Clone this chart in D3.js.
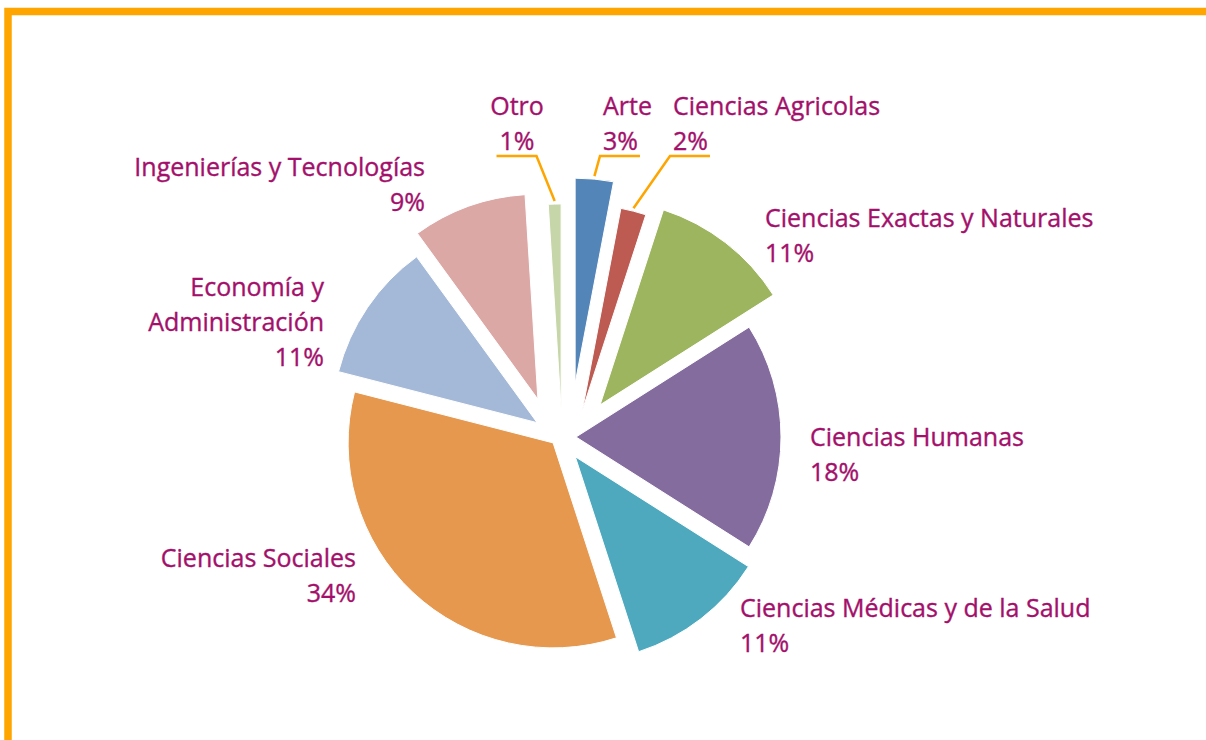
<!DOCTYPE html>
<html>
<head>
    <script src="https://cdnjs.cloudflare.com/ajax/libs/d3/7.8.5/d3.min.js"></script>
    <style>
        body { margin: 0; background: #fff; }
        .label { font-family: "Open Sans", sans-serif; font-size: 25px; fill: #a3106b; stroke: #a3106b; stroke-width: 0.35; }
        .leader { stroke: #ffa500; stroke-width: 2.5; fill: none; }
    </style>
</head>
<body>
    <svg id="chart" width="1206" height="740"></svg>

    <script>
        // Data (clockwise from 12 o'clock)
        const categories = ["Arte", "Ciencias Agricolas", "Ciencias Exactas y Naturales", "Ciencias Humanas",
            "Ciencias Médicas y de la Salud", "Ciencias Sociales", "Economía y Administración",
            "Ingenierías y Tecnologías", "Otro"];
        const values = [3, 2, 11, 18, 11, 34, 11, 9, 1];

        // label text lines (the category name as it wraps in the picture)
        const labelLines = [["Arte"], ["Ciencias Agricolas"], ["Ciencias Exactas y Naturales"], ["Ciencias Humanas"],
            ["Ciencias Médicas y de la Salud"], ["Ciencias Sociales"], ["Economía y", "Administración"],
            ["Ingenierías y Tecnologías"], ["Otro"]];

        const colors = ["#5485b8", "#bd5b53", "#9db55f", "#856c9e", "#4fa9be", "#e5984e", "#a4b8d7", "#dca8a6", "#c6d6a8"];

        // layout: explosion along the slice middle, plus a sideways nudge
        const explode = [55, 32, 50, 16, 25, 9, 27, 43, 28];
        const nudge = [10, 15, 12, 0, 0, 1, -1, -8, 2];
        // label anchor relative to pie centre: [dx, dy of first baseline, text-anchor]
        const labelPos = [[43, -322, "start"], [113, -322, "start"], [205, -210, "start"], [250, 9, "start"],
            [180, 180, "start"], [-204, 130, "end"], [-236, -141, "end"], [-135, -261, "end"], [-43, -322, "middle"]];

        const svg = d3.select("#chart");
        const cx = 560, cy = 437, radius = 205, lineH = 35;

        // orange frame on the top and left
        svg.append("rect")
            .attr("x", 8).attr("y", 11.5)
            .attr("width", 1300).attr("height", 800)
            .attr("fill", "none")
            .attr("stroke", "#ffa500")
            .attr("stroke-width", 7.5);

        const total = d3.sum(values);
        const pie = d3.pie().sort(null).value(d => d)(values);
        const arc = d3.arc().innerRadius(0).outerRadius(radius);
        const rim = d3.arc().innerRadius(radius).outerRadius(radius);

        function offset(d, i) {
            const a = (d.startAngle + d.endAngle) / 2;
            const r = explode[i], t = nudge[i];
            return [r * Math.sin(a) + t * Math.cos(a), -r * Math.cos(a) + t * Math.sin(a)];
        }

        const g = svg.append("g").attr("transform", `translate(${cx},${cy})`);

        g.selectAll("path.slice")
            .data(pie)
            .enter()
            .append("path")
            .attr("class", "slice")
            .attr("d", arc)
            .attr("transform", (d, i) => `translate(${offset(d, i)})`)
            .attr("fill", (d, i) => colors[i])
            .attr("stroke", "#fff")
            .attr("stroke-width", 1);

        // labels
        pie.forEach((d, i) => {
            const [lx, ly, anchor] = labelPos[i];
            const pct = Math.round(values[i] / total * 100) + "%";
            const lines = labelLines[i].concat([pct]);
            const txt = g.append("text")
                .attr("class", "label")
                .attr("text-anchor", anchor);
            lines.forEach((s, k) => {
                txt.append("tspan")
                    .attr("x", lx)
                    .attr("y", ly + k * lineH)
                    .text(s);
            });

            // leader lines for the thin slices, drawn as an underline under the percentage
            if (values[i] <= 3) {
                const last = txt.selectAll("tspan").nodes().pop();
                const w = last.getComputedTextLength();
                let x0 = anchor === "start" ? lx : anchor === "end" ? lx - w : lx - w / 2;
                x0 -= 3;
                const x1 = x0 + w + 5;
                const uy = ly + (lines.length - 1) * lineH + 6;
                const c = rim.centroid(d);
                const o = offset(d, i);
                const px = c[0] + o[0], py = c[1] + o[1] - 3;
                const path = px > (x0 + x1) / 2
                    ? [[x0, uy], [x1, uy], [px, py]]
                    : [[x1, uy], [x0, uy], [px, py]];
                g.append("path")
                    .attr("class", "leader")
                    .attr("d", d3.line()(path));
            }
        });
    </script>
</body>
</html>
